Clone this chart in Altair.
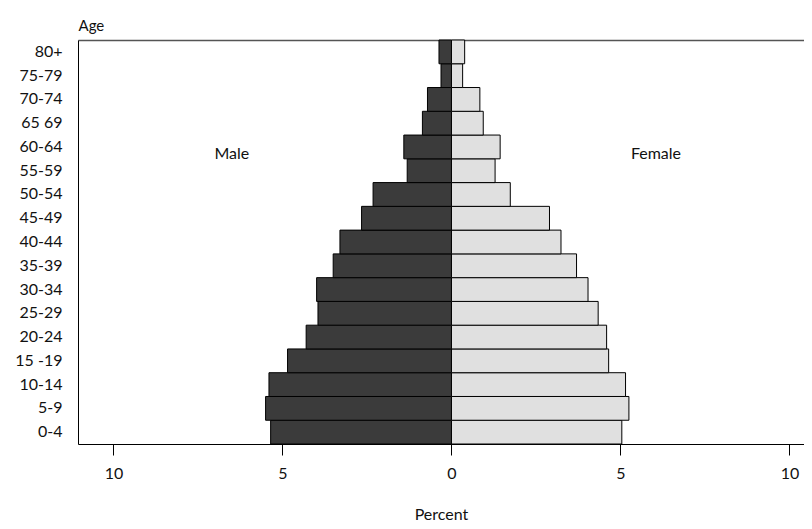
import altair as alt
import pandas as pd

ages = ["0-4", "5-9", "10-14", "15 -19", "20-24", "25-29", "30-34", "35-39",
        "40-44", "45-49", "50-54", "55-59", "60-64", "65 69", "70-74", "75-79", "80+"]
male = [5.35, 5.50, 5.40, 4.85, 4.30, 3.95, 3.99, 3.50,
        3.30, 2.66, 2.32, 1.31, 1.41, 0.86, 0.71, 0.31, 0.37]
female = [5.04, 5.25, 5.15, 4.65, 4.59, 4.34, 4.04, 3.70,
          3.24, 2.90, 1.74, 1.29, 1.44, 0.94, 0.84, 0.33, 0.39]

label_text = ["Male", "Female"]
label_x = [-6.5, 6.05]
label_age = ["60-64", "60-64"]

rows = []
for a, m, f in zip(ages, male, female):
    rows.append({"age": a, "sex": "Male", "value": -m})
    rows.append({"age": a, "sex": "Female", "value": f})
df = pd.DataFrame(rows)
lab = pd.DataFrame({"text": label_text, "x": label_x, "age": label_age})

FONT = "Lato"
order_top_down = list(reversed(ages))

# plot spans x = 78..804 on the page; 1 percent = 33.8 px, zero at 451.5
xscale = alt.Scale(domain=[-11.05, 10.43], nice=False, zero=False)
yscale = alt.Scale(paddingInner=0, paddingOuter=0)

bars = alt.Chart(df).mark_bar(stroke="black", strokeWidth=1).encode(
    x=alt.X("value:Q", scale=xscale,
            axis=alt.Axis(values=[-10, -5, 0, 5, 10], labelExpr="abs(datum.value)",
                          title="Percent", grid=False, tickSize=11, tickColor="black",
                          domainColor="black", labelPadding=10, labelFontSize=16,
                          labelFont=FONT, labelColor="#111", titleFont=FONT,
                          titleFontSize=16, titleFontWeight="normal", titleColor="#111",
                          titleBaseline="alphabetic", titleY=75)),
    y=alt.Y("age:N", sort=order_top_down, scale=yscale,
            axis=alt.Axis(title="Age", ticks=False, tickSize=0, labelPadding=16,
                          domainColor="black", labelFontSize=16, labelFont=FONT,
                          labelColor="#111", titleAngle=0, titleAlign="left",
                          titleBaseline="middle", titleX=0, titleY=-15,
                          titleFont=FONT, titleFontSize=15, titleFontWeight="normal",
                          titleColor="#111")),
    color=alt.Color("sex:N", scale=alt.Scale(domain=["Male", "Female"],
                                             range=["#3b3b3b", "#e0e0e0"]),
                    legend=None),
)

texts = alt.Chart(lab).mark_text(font=FONT, fontSize=16, color="#111", dy=7).encode(
    x=alt.X("x:Q", scale=xscale,
            axis=alt.Axis(orient="top", labels=False, ticks=False, grid=False,
                          title=None, domainColor="#555", domainWidth=1.3)),
    y=alt.Y("age:N", sort=order_top_down, scale=yscale),
    text="text:N",
)

chart = alt.layer(bars, texts).resolve_axis(x="independent").properties(
    width=726, height=404,
    autosize=alt.AutoSizeParams(type="none"),
    padding={"left": 70, "top": 32, "right": 0, "bottom": 77},
).configure_view(stroke=None)

chart.save("out.html", embed_options={"renderer": "svg", "actions": False})
